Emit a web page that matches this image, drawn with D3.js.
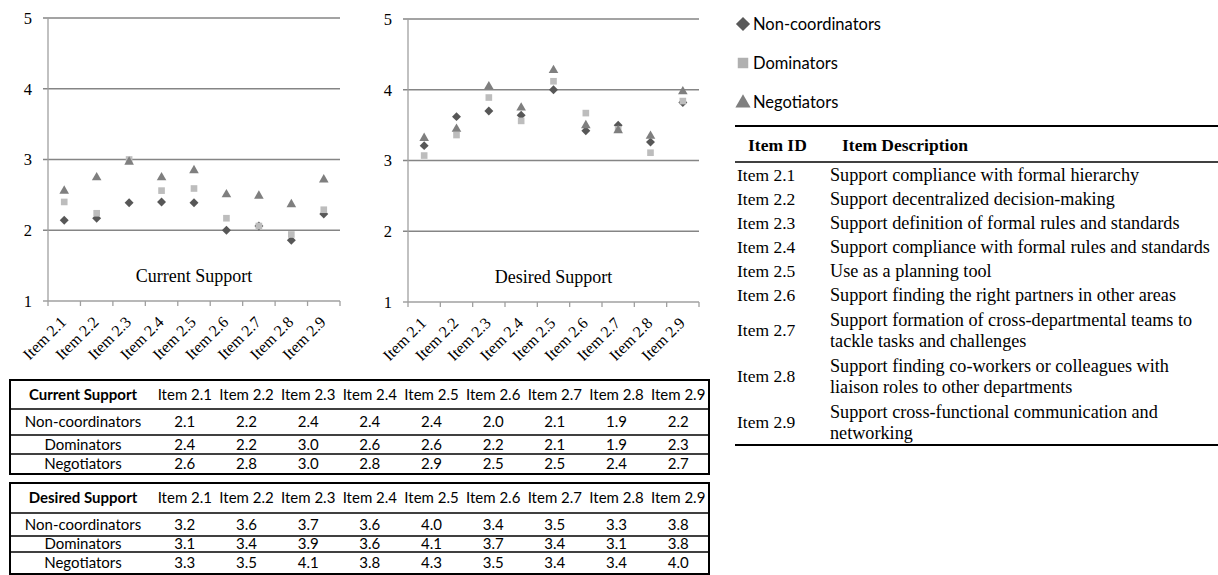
<!DOCTYPE html>
<html><head><meta charset="utf-8">
<script src="https://cdn.jsdelivr.net/npm/d3@7"></script>
<style>body{margin:0;background:#fff} svg{display:block}
.serif{font-family:'Liberation Serif','Times New Roman',serif}
.sans{font-family:Lato,'Open Sans',sans-serif}
</style>
</head><body><svg id="c" width="1218" height="575"></svg>
<script>
// ---------- data ----------
const items = ["Item 2.1","Item 2.2","Item 2.3","Item 2.4","Item 2.5","Item 2.6","Item 2.7","Item 2.8","Item 2.9"];
const groups = ["Non-coordinators","Dominators","Negotiators"];
const currentNonCoordinators = [2.14,2.17,2.39,2.40,2.39,2.00,2.06,1.86,2.23];
const currentDominators      = [2.40,2.24,3.00,2.56,2.59,2.17,2.06,1.94,2.29];
const currentNegotiators     = [2.57,2.76,2.98,2.76,2.86,2.52,2.50,2.38,2.73];
const desiredNonCoordinators = [3.21,3.62,3.70,3.64,4.00,3.42,3.50,3.26,3.82];
const desiredDominators      = [3.07,3.36,3.89,3.56,4.12,3.67,3.44,3.11,3.84];
const desiredNegotiators     = [3.33,3.46,4.06,3.76,4.29,3.51,3.44,3.36,3.99];
const yTicks = [1,2,3,4,5];
const chartTitles = ["Current Support","Desired Support"];
const itemDescriptions = [
  ["Support compliance with formal hierarchy"],
  ["Support decentralized decision-making"],
  ["Support definition of formal rules and standards"],
  ["Support compliance with formal rules and standards"],
  ["Use as a planning tool"],
  ["Support finding the right partners in other areas"],
  ["Support formation of cross-departmental teams to","tackle tasks and challenges"],
  ["Support finding co-workers or colleagues with","liaison roles to other departments"],
  ["Support cross-functional communication and","networking"]
];

// ---------- styles ----------
const colors = {"Non-coordinators":"#575757","Dominators":"#bdbdbd","Negotiators":"#7f7f7f"};
const shapes = {"Non-coordinators":"diamond","Dominators":"square","Negotiators":"triangle"};

const svg = d3.select("#c");
svg.append("rect").attr("width",1218).attr("height",575).attr("fill","#fff");

function symbolPath(shape, scale){
  if(shape==="diamond") return d3.symbol(d3.symbolSquare, 40*scale)();
  if(shape==="square") return d3.symbol(d3.symbolSquare, 44*scale)();
  return d3.symbol(d3.symbolTriangle, 40*scale)();
}
function drawMarker(g, shape, x, y, scale, color){
  const p = g.append("path").attr("d", symbolPath(shape, scale)).attr("fill", color);
  if(shape==="diamond") p.attr("transform",`translate(${x},${y}) rotate(45)`);
  else if(shape==="triangle") p.attr("transform",`translate(${x},${y+1})`);
  else p.attr("transform",`translate(${x},${y})`);
}

// ---------- charts ----------
function drawChart(cfg){
  const g = svg.append("g");
  const x = d3.scaleBand().domain(items).range([cfg.x0,cfg.x1]);
  const y = d3.scaleLinear().domain([1,5]).range([cfg.yb,cfg.yt]);
  g.selectAll("line.grid").data(yTicks).join("line")
    .attr("x1",cfg.x0-5).attr("x2",cfg.x1).attr("y1",d=>y(d)).attr("y2",d=>y(d))
    .attr("stroke",d=>d===1?"#a0a0a0":"#858585").attr("stroke-width",1.3);
  g.append("line").attr("x1",cfg.x0).attr("x2",cfg.x0).attr("y1",y(5)).attr("y2",y(1))
    .attr("stroke","#a0a0a0").attr("stroke-width",1.3);
  g.selectAll("text.yl").data(yTicks).join("text")
    .attr("class","serif")
    .attr("x",cfg.x0-16).attr("y",d=>y(d)).attr("dy","0.35em")
    .style("text-anchor","end").style("font-size","16.5px").text(d=>d);
  const bounds = items.map(d=>x(d)).concat([cfg.x1]);
  g.selectAll("line.xt").data(bounds).join("line")
    .attr("x1",d=>d).attr("x2",d=>d).attr("y1",y(1)).attr("y2",y(1)+5)
    .attr("stroke","#a0a0a0").attr("stroke-width",1.3);
  g.selectAll("text.xl").data(items).join("text")
    .attr("class","serif")
    .attr("transform",d=>`translate(${x(d)+x.bandwidth()/2+3},${y(1)+22}) rotate(-45)`)
    .style("text-anchor","end").style("font-size","16px").text(d=>d);
  g.append("text").attr("class","serif").attr("x",(cfg.x0+cfg.x1)/2).attr("y",y(1)-25).attr("dy","0.35em")
    .style("text-anchor","middle").style("font-size","18px").text(cfg.title);
  cfg.series.forEach((vals,i)=>{
    const grp = groups[i];
    vals.forEach((v,j)=>drawMarker(g, shapes[grp], x(items[j])+x.bandwidth()/2, y(v), 1, colors[grp]));
  });
}
drawChart({x0:48,x1:340,yt:18,yb:301,title:chartTitles[0],
  series:[currentNonCoordinators,currentDominators,currentNegotiators]});
drawChart({x0:408,x1:699,yt:19,yb:302,title:chartTitles[1],
  series:[desiredNonCoordinators,desiredDominators,desiredNegotiators]});

// ---------- legend ----------
const lg = svg.append("g");
const legendY = d3.scalePoint().domain(groups).range([24,102]);
const legendColors = {"Non-coordinators":"#595959","Dominators":"#b0b0b0","Negotiators":"#7f7f7f"};
groups.forEach(grp=>{
  drawMarker(lg, shapes[grp], 743, legendY(grp), 2.5, legendColors[grp]);
  lg.append("text").attr("class","sans").attr("x",753).attr("y",legendY(grp)).attr("dy","0.35em")
    .style("font-size","16.5px").attr("fill","#000").text(grp);
});

// ---------- data tables ----------
const fmt = d3.format(".1f");
function drawTable(cfg){
  const g = svg.append("g");
  const cx = d3.scaleBand().domain(items).range([154,709]);
  const rowsY = cfg.rows;
  g.selectAll("line.h").data(rowsY.slice(1,-1)).join("line")
    .attr("x1",10).attr("x2",709).attr("y1",d=>d).attr("y2",d=>d)
    .attr("stroke","#000").attr("stroke-width",1.5);
  g.append("rect").attr("x",10).attr("y",rowsY[0]).attr("width",699).attr("height",rowsY[rowsY.length-1]-rowsY[0])
    .attr("fill","none").attr("stroke","#000").attr("stroke-width",2);
  const mid = i => (rowsY[i]+rowsY[i+1])/2;
  g.append("text").attr("class","sans").attr("x",83).attr("y",mid(0)).attr("dy","0.35em").style("text-anchor","middle")
    .style("font-weight","bold").style("font-size","15px").text(cfg.title);
  g.selectAll("text.ch").data(items).join("text").attr("class","sans")
    .attr("x",d=>cx(d)+cx.bandwidth()/2).attr("y",mid(0)).attr("dy","0.35em").style("text-anchor","middle")
    .style("font-size","15px").text(d=>d);
  cfg.series.forEach((vals,i)=>{
    g.append("text").attr("class","sans").attr("x",83).attr("y",mid(i+1)).attr("dy","0.35em").style("text-anchor","middle")
      .style("font-size","15px").text(groups[i]);
    g.selectAll(null).data(vals).join("text").attr("class","sans")
      .attr("x",(d,j)=>cx(items[j])+cx.bandwidth()/2).attr("y",mid(i+1)).attr("dy","0.35em").style("text-anchor","middle")
      .style("font-size","15px").text(d=>fmt(d));
  });
}
drawTable({title:"Current Support",rows:[380,409,435,454,474],
  series:[currentNonCoordinators,currentDominators,currentNegotiators]});
drawTable({title:"Desired Support",rows:[483,513,536,552,574],
  series:[desiredNonCoordinators,desiredDominators,desiredNegotiators]});

// ---------- item description table ----------
const it = svg.append("g");
it.append("line").attr("x1",735).attr("x2",1218).attr("y1",126).attr("y2",126).attr("stroke","#000").attr("stroke-width",2);
it.append("text").attr("class","serif").attr("x",748).attr("y",145).attr("dy","0.35em").style("font-weight","bold").style("font-size","17.5px").text("Item ID");
it.append("text").attr("class","serif").attr("x",842).attr("y",145).attr("dy","0.35em").style("font-weight","bold").style("font-size","17.5px").text("Item Description");
it.append("line").attr("x1",735).attr("x2",1218).attr("y1",162).attr("y2",162).attr("stroke","#000").attr("stroke-width",1.5);
let yy = 163;
items.forEach((id,i)=>{
  const lines = itemDescriptions[i];
  const h = lines.length*22+2;
  const c = yy + h/2;
  it.append("text").attr("class","serif").attr("x",737).attr("y",c).attr("dy","0.35em").style("font-size","17.5px").text(id);
  lines.forEach((ln,k)=>{
    it.append("text").attr("class","serif").attr("x",830).attr("y",c+(k-(lines.length-1)/2)*21).attr("dy","0.35em")
      .style("font-size","18.2px").text(ln);
  });
  yy += h;
});
it.append("line").attr("x1",735).attr("x2",1218).attr("y1",yy).attr("y2",yy).attr("stroke","#000").attr("stroke-width",2);
</script></body></html>
